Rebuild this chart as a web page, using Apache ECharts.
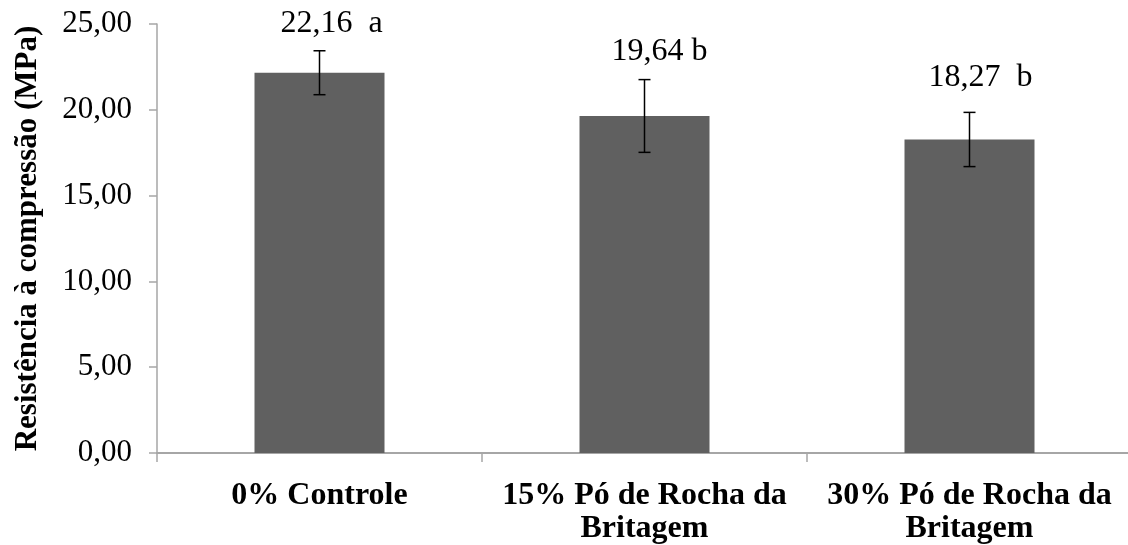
<!DOCTYPE html>
<html>
<head>
<meta charset="utf-8">
<script src="https://cdn.jsdelivr.net/npm/echarts@6/dist/echarts.min.js"></script>
<style>html,body{margin:0;padding:0;background:#fff}#c{width:1128px;height:545px}</style>
</head>
<body>
<div id="c"></div>
<script>
const categories = ['0% Controle', '15% Pó de Rocha da\nBritagem', '30% Pó de Rocha da\nBritagem'];
const means = [22.16, 19.64, 18.27];
const errors = [1.28, 2.12, 1.58];
const letters = ['a', 'b', 'b'];
const yTicks = { min: 0, max: 25, interval: 5 };
const yTitle = 'Resistência à compressão (MPa)';

// label styling offsets (pixels)
const labelDx = [12, 15, 11];
const labelDy = [-27, -28, -35];
const labelSep = ['  ', ' ', '  '];

const fmt = v => v.toFixed(2).replace('.', ',');
const serif = '"Liberation Serif", "Times New Roman", serif';

const chart = echarts.init(document.getElementById('c'));
chart.setOption({
  animation: false,
  grid: { left: 157, top: 24, width: 975, bottom: 92, containLabel: false, outerBoundsMode: 'none' },
  xAxis: {
    type: 'category',
    data: categories,
    axisLine: { lineStyle: { color: '#a6a6a6', width: 2 } },
    axisTick: { show: true, length: 9, lineStyle: { color: '#a6a6a6', width: 1.5 } },
    axisLabel: {
      color: '#000', fontFamily: serif, fontWeight: 'bold', fontSize: 32,
      lineHeight: 33, margin: 26, interval: 0
    }
  },
  yAxis: {
    type: 'value',
    min: yTicks.min, max: yTicks.max, interval: yTicks.interval,
    name: yTitle,
    nameLocation: 'middle',
    nameGap: 114,
    nameRotate: 90,
    nameTextStyle: { color: '#000', fontFamily: serif, fontWeight: 'bold', fontSize: 31 },
    splitLine: { show: false },
    axisLine: { show: true, lineStyle: { color: '#a6a6a6', width: 1.5 } },
    axisTick: { show: true, length: 8, lineStyle: { color: '#a6a6a6', width: 1.5 } },
    axisLabel: {
      color: '#000', fontFamily: serif, fontSize: 31, margin: 25,
      formatter: v => fmt(v)
    }
  },
  series: [
    {
      type: 'bar',
      data: means,
      barWidth: '40%',
      itemStyle: { color: '#606060' },
      z: 2
    },
    {
      type: 'custom',
      data: means.map((m, i) => [i, m, errors[i]]),
      z: 5,
      renderItem: (params, api) => {
        const i = api.value(0), m = api.value(1), e = api.value(2);
        const top = api.coord([i, m + e]);
        const bot = api.coord([i, m - e]);
        const cap = 6;
        const ls = { stroke: '#000', lineWidth: 1.5 };
        return {
          type: 'group',
          children: [
            { type: 'line', shape: { x1: top[0], y1: top[1], x2: bot[0], y2: bot[1] }, style: ls },
            { type: 'line', shape: { x1: top[0] - cap, y1: top[1], x2: top[0] + cap, y2: top[1] }, style: ls },
            { type: 'line', shape: { x1: bot[0] - cap, y1: bot[1], x2: bot[0] + cap, y2: bot[1] }, style: ls },
            {
              type: 'text',
              x: top[0] + labelDx[i], y: top[1] + labelDy[i],
              style: {
                text: fmt(m) + labelSep[i] + letters[i],
                fill: '#000', font: '32px ' + serif,
                textAlign: 'center', textVerticalAlign: 'middle'
              }
            }
          ]
        };
      }
    }
  ]
});
</script>
</body>
</html>
